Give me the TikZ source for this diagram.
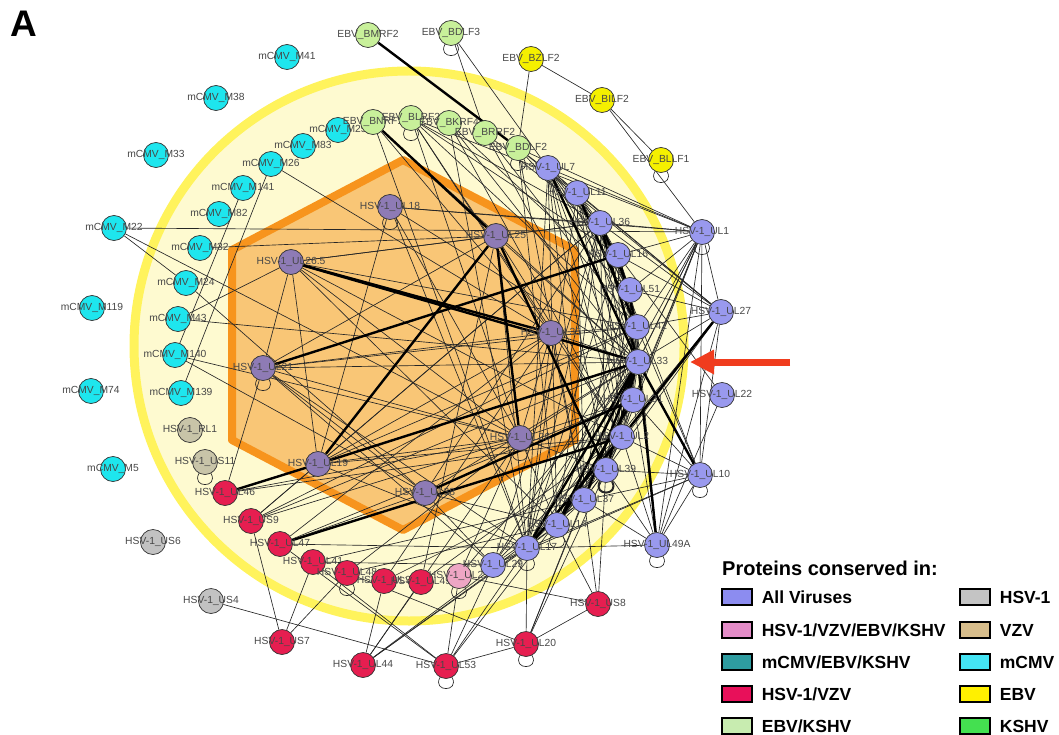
\documentclass[tikz,border=0pt]{standalone}
\usepackage{fontspec}
\setmainfont{Liberation Sans}
\usetikzlibrary{positioning,arrows.meta}

\definecolor{allcol}{HTML}{9999EE}
\definecolor{hexcol}{HTML}{8E7BB5}
\definecolor{redcol}{HTML}{E61E50}
\definecolor{pinkcol}{HTML}{EEA6C4}
\definecolor{cyancol}{HTML}{1EE6EE}
\definecolor{greencol}{HTML}{C8F09A}
\definecolor{ebvcol}{HTML}{F5F000}
\definecolor{greycol}{HTML}{C2C2C2}
\definecolor{tangrey}{HTML}{C8C4A8}
\definecolor{ringcol}{HTML}{FFF35C}
\definecolor{ringfill}{HTML}{FEFAD0}
\definecolor{orangeedge}{HTML}{F7941D}
\definecolor{orangefill}{HTML}{F9C676}
\definecolor{arrowred}{HTML}{F03C1E}
% legend colours
\definecolor{legall}{HTML}{8C8CF0}
\definecolor{legfour}{HTML}{E48CC8}
\definecolor{legteal}{HTML}{2E9CA0}
\definecolor{legred}{HTML}{E8105A}
\definecolor{leggreen}{HTML}{C8ECB0}
\definecolor{leggrey}{HTML}{C4C4C4}
\definecolor{legvzv}{HTML}{D8BE8C}
\definecolor{legcyan}{HTML}{44E4F4}
\definecolor{legyellow}{HTML}{FFF000}
\definecolor{legkshv}{HTML}{44E050}

\pgfdeclarelayer{back}
\pgfdeclarelayer{links}
\pgfsetlayers{back,links,main}

\begin{document}
\begin{tikzpicture}[x=1pt,y=-1pt,
    prot/.style={circle,draw=black!80,line width=0.7pt,minimum size=25pt,inner sep=0pt},
    allv/.style={prot,fill=allcol},
    core/.style={prot,fill=hexcol},
    alpha/.style={prot,fill=redcol},
    four/.style={prot,fill=pinkcol},
    mcmv/.style={prot,fill=cyancol},
    gamma/.style={prot,fill=greencol},
    ebv/.style={prot,fill=ebvcol},
    hsvonly/.style={prot,fill=greycol},
    hsvtan/.style={prot,fill=tangrey},
    every label/.style={font=\fontsize{10.3}{11}\selectfont,text=black!72},
    link/.style={draw=black!85,line width=0.65pt},
    heavy/.style={draw=black,line width=2.4pt},
    legbox/.style={draw=black,line width=1.3pt,minimum width=30pt,minimum height=16pt,inner sep=0pt},
    legtext/.style={font=\bfseries\fontsize{17.5}{18}\selectfont,anchor=west,inner sep=0pt}]

\useasboundingbox (0,0) rectangle (1059,735);

% backdrop: ring and hexagon
\begin{pgfonlayer}{back}
  \draw[draw=ringcol,fill=ringfill,line width=9pt] (409,346) circle[radius=275];
  \draw[draw=orangeedge,fill=orangefill,line width=8pt,line join=round]
    (403,160) -- (575,250) -- (575,440) -- (403,530) -- (232,440) -- (232,250) -- cycle;
\end{pgfonlayer}

\node[font=\bfseries\fontsize{37}{37}\selectfont] (panel) at (24,24) {A};

% mCMV
\node[mcmv,label=center:mCMV\_M41] (m41) at (287,57) {};
\node[mcmv,label=center:mCMV\_M38] (m38) at (216,98) {};
\node[mcmv,label=center:mCMV\_M33] (m33) at (156,155) {};
\node[mcmv,label=center:mCMV\_M25] (m25) at (338,130) {};
\node[mcmv,label=center:mCMV\_M83] (m83) at (303,146) {};
\node[mcmv,label=center:mCMV\_M26] (m26) at (271,164) {};
\node[mcmv,label=center:mCMV\_M141] (m141) at (243,188) {};
\node[mcmv,label=center:mCMV\_M82] (m82) at (219,214) {};
\node[mcmv,label=center:mCMV\_M22] (m22) at (114,228) {};
\node[mcmv,label=center:mCMV\_M32] (m32) at (200,248) {};
\node[mcmv,label=center:mCMV\_M24] (m24) at (186,283) {};
\node[mcmv,label=center:mCMV\_M119] (m119) at (92,308) {};
\node[mcmv,label=center:mCMV\_M43] (m43) at (178,319) {};
\node[mcmv,label=center:mCMV\_M140] (m140) at (175,355) {};
\node[mcmv,label=center:mCMV\_M74] (m74) at (91,391) {};
\node[mcmv,label=center:mCMV\_M139] (m139) at (181,393) {};
\node[mcmv,label=center:mCMV\_M5] (m5) at (113,469) {};

% HSV-1 only
\node[hsvtan,label=center:HSV-1\_RL1] (rl1) at (190,430) {};
\node[hsvtan,label=center:HSV-1\_US11] (us11) at (205,462) {};
\node[hsvonly,label=center:HSV-1\_US6] (us6) at (153,542) {};
\node[hsvonly,label=center:HSV-1\_US4] (us4) at (211,601) {};

% HSV-1/VZV
\node[alpha,label=center:HSV-1\_UL46] (ul46) at (225,493) {};
\node[alpha,label=center:HSV-1\_US9] (us9) at (251,521) {};
\node[alpha,label=center:HSV-1\_UL47] (ul47) at (280,544) {};
\node[alpha,label=center:HSV-1\_UL41] (ul41) at (313,562) {};
\node[alpha,label=center:HSV-1\_UL48] (ul48) at (347,573) {};
\node[alpha,label=center:HSV-1\_UL3] (ul3) at (384,581) {};
\node[alpha,label=center:HSV-1\_UL49] (ul49) at (421,582) {};
\node[four,label=center:HSV-1\_UL23] (ul23) at (459,576) {};
\node[alpha,label=center:HSV-1\_US7] (us7) at (282,642) {};
\node[alpha,label=center:HSV-1\_UL44] (ul44) at (363,665) {};
\node[alpha,label=center:HSV-1\_UL53] (ul53) at (446,666) {};
\node[alpha,label=center:HSV-1\_UL20] (ul20) at (526,644) {};
\node[alpha,label=center:HSV-1\_US8] (us8) at (598,604) {};

% EBV/KSHV and EBV
\node[gamma,label=center:EBV\_BMRF2] (bmrf2) at (368,35) {};
\node[gamma,label=center:EBV\_BDLF3] (bdlf3) at (451,33) {};
\node[gamma,label=center:EBV\_BNRF1] (bnrf1) at (373,122) {};
\node[gamma,label=center:EBV\_BLRF2] (blrf2) at (411,118) {};
\node[gamma,label=center:EBV\_BKRF4] (bkrf4) at (449,123) {};
\node[gamma,label=center:EBV\_BRRF2] (brrf2) at (485,133) {};
\node[gamma,label=center:EBV\_BDLF2] (bdlf2) at (518,148) {};
\node[ebv,label=center:EBV\_BZLF2] (bzlf2) at (531,59) {};
\node[ebv,label=center:EBV\_BILF2] (bilf2) at (602,100) {};
\node[ebv,label=center:EBV\_BLLF1] (bllf1) at (661,160) {};

% conserved in all, hexagon group
\node[core,label=center:HSV-1\_UL18] (ul18) at (390,207) {};
\node[core,label=center:HSV-1\_UL25] (ul25) at (496,236) {};
\node[core,label=center:HSV-1\_UL26.5] (ul265) at (291,262) {};
\node[core,label=center:HSV-1\_UL35] (ul35) at (551,333) {};
\node[core,label=center:HSV-1\_UL21] (ul21) at (263,368) {};
\node[core,label=center:HSV-1\_UL26] (ul26) at (520,438) {};
\node[core,label=center:HSV-1\_UL19] (ul19) at (318,464) {};
\node[core,label=center:HSV-1\_UL38] (ul38) at (425,493) {};

% conserved in all, arc
\node[allv,label=center:HSV-1\_UL7] (ul7) at (548,168) {};
\node[allv,label=center:HSV-1\_UL11] (ul11) at (577,193) {};
\node[allv,label=center:HSV-1\_UL36] (ul36) at (600,223) {};
\node[allv,label=center:HSV-1\_UL16] (ul16) at (618,255) {};
\node[allv,label=center:HSV-1\_UL51] (ul51) at (630,290) {};
\node[allv,label=center:HSV-1\_UL42] (ul42) at (637,327) {};
\node[allv,label=center:HSV-1\_UL33] (ul33) at (638,362) {};
\node[allv,label=center:HSV-1\_UL31] (ul31) at (633,400) {};
\node[allv,label=center:HSV-1\_UL2] (ul2) at (622,437) {};
\node[allv,label=center:HSV-1\_UL39] (ul39) at (606,470) {};
\node[allv,label=center:HSV-1\_UL37] (ul37) at (584,500) {};
\node[allv,label=center:HSV-1\_UL14] (ul14) at (557,525) {};
\node[allv,label=center:HSV-1\_UL17] (ul17) at (527,548) {};
\node[allv,label=center:HSV-1\_UL29] (ul29) at (493,565) {};
\node[allv,label=center:HSV-1\_UL1] (ul1) at (702,232) {};
\node[allv,label=center:HSV-1\_UL27] (ul27) at (721,312) {};
\node[allv,label=center:HSV-1\_UL22] (ul22) at (722,395) {};
\node[allv,label=center:HSV-1\_UL10] (ul10) at (700,475) {};
\node[allv,label=center:HSV-1\_UL49A] (ul49a) at (657,545) {};

\begin{pgfonlayer}{links}
  % thin interactions
  \foreach \a/\b in {ul7/ul11,ul7/ul36,ul7/ul16,ul7/ul51,ul7/ul42,ul7/ul31,ul7/ul2,ul7/ul39,ul7/ul37,ul7/ul14,ul7/ul17,
      ul11/ul36,ul11/ul16,ul11/ul51,ul11/ul33,ul11/ul31,ul11/ul2,ul11/ul37,ul11/ul17,
      ul36/ul16,ul36/ul42,ul36/ul31,ul36/ul2,ul36/ul39,ul36/ul14,ul36/ul17,ul36/ul29,
      ul16/ul51,ul16/ul33,ul16/ul2,ul16/ul37,ul16/ul17,
      ul51/ul42,ul51/ul33,ul51/ul31,ul51/ul39,ul51/ul14,
      ul42/ul33,ul42/ul31,ul42/ul2,ul42/ul37,ul42/ul17,ul42/ul29,
      ul33/ul31,ul33/ul2,ul33/ul29,ul31/ul2,ul31/ul37,ul31/ul17,
      ul2/ul39,ul2/ul14,ul2/ul29,ul39/ul37,ul39/ul17,ul37/ul14,ul37/ul29,ul14/ul17,ul17/ul29}
    \draw[link] (\a) -- (\b);
  \foreach \a/\b in {ul1/ul7,ul1/ul36,ul1/ul16,ul1/ul51,ul1/ul42,ul1/ul33,ul1/ul31,ul1/ul2,ul1/ul39,ul1/ul27,
      ul1/ul10,ul1/ul49a,ul1/ul17,ul1/ul14,
      ul27/ul36,ul27/ul16,ul27/ul51,ul27/ul42,ul27/ul33,ul27/ul37,ul27/ul17,ul27/ul10,ul27/ul49a,
      ul27/ul14,ul27/ul11,ul27/ul7,ul22/ul16,ul22/ul49a,
      ul10/ul36,ul10/ul42,ul10/ul31,ul10/ul2,ul10/ul39,ul10/ul37,ul10/ul17,ul10/ul49a,ul10/ul29,
      ul49a/ul42,ul49a/ul31,ul49a/ul2,ul49a/ul39,ul49a/ul37,ul49a/ul17,ul49a/ul51}
    \draw[link] (\a) -- (\b);
  \foreach \a/\b in {bzlf2/bilf2,bilf2/bllf1,bilf2/ul1,bzlf2/bdlf2,bdlf2/ul1,bdlf2/ul27,
      bdlf3/brrf2,bdlf3/ul7,bnrf1/ul35,bnrf1/ul33,bnrf1/ul17,
      blrf2/ul35,blrf2/ul16,blrf2/ul36,blrf2/ul42,blrf2/ul1,blrf2/ul2,blrf2/ul26,
      bkrf4/ul33,bkrf4/ul51,bkrf4/ul2,bkrf4/ul17,brrf2/ul36,brrf2/ul42,brrf2/ul31,
      bdlf2/ul11,bdlf2/ul16,bdlf2/ul37,bdlf2/ul14,
      m22/ul1,m22/m24,m22/ul26,m26/ul35,m26/m139,m141/m140,m43/ul265,m43/ul33,m140/ul26,m140/ul38,m24/ul38,m32/ul25}
    \draw[link] (\a) -- (\b);
  \foreach \a/\b in {ul46/ul21,ul46/ul26,ul46/ul33,ul46/ul2,
      us9/us7,us9/ul19,us9/ul26,us9/ul36,us9/ul33,us9/ul42,
      ul47/ul35,ul47/ul38,ul47/ul17,ul47/ul31,ul41/ul29,ul41/ul37,ul41/ul53,ul41/us7,
      ul48/us7,ul48/ul20,ul48/ul26,ul48/ul14,ul3/ul35,ul3/ul39,ul3/ul44,
      ul49/ul44,ul49/ul2,ul49/ul25,ul23/ul53,ul23/ul33,ul23/ul26,
      ul44/ul17,ul44/ul14,ul44/ul37,ul44/ul26,
      us4/ul53,ul53/ul20,ul53/ul17,ul53/ul29,ul53/ul2,ul53/ul47,
      ul20/us8,ul20/ul17,ul20/ul33,ul20/ul2,ul20/ul37,
      us8/ul23,us8/ul14,us8/ul37,us8/ul39}
    \draw[link] (\a) -- (\b);
  \foreach \a/\b in {ul18/ul33,ul18/ul17,ul18/ul36,ul18/ul26,ul18/ul19,ul18/ul1,
      ul25/ul265,ul25/ul36,ul25/ul33,ul25/ul2,ul25/ul17,ul25/ul21,
      ul265/ul21,ul265/ul36,ul265/ul26,ul265/ul19,ul265/ul42,ul265/ul2,ul265/ul14,
      ul35/ul33,ul35/ul42,ul35/ul26,ul35/ul37,ul35/ul19,ul35/ul21,ul35/ul17,
      ul21/ul26,ul21/ul33,ul21/ul42,ul21/ul38,ul21/ul17,ul21/ul29,
      ul26/ul19,ul26/ul33,ul26/ul31,ul26/ul39,ul26/ul14,
      ul19/ul42,ul19/ul36,ul19/ul2,ul19/ul17,ul38/ul36,ul38/ul33,ul38/ul29,ul38/ul14}
    \draw[link] (\a) -- (\b);
  % strong interactions
  \foreach \a/\b in {bmrf2/bdlf2,bnrf1/ul25,ul265/ul35,ul265/ul33,ul21/ul16,ul25/ul19,ul25/ul26,ul25/ul39,
      ul19/ul33,ul19/ul46,ul38/ul31,ul47/ul2,ul33/ul10,ul33/ul49a,ul7/ul33,ul36/ul33,ul11/ul42,
      ul17/ul33,ul14/ul33,ul37/ul33,ul17/ul2,ul39/ul33,ul14/ul31,ul27/ul2,ul36/ul51,ul16/ul42}
    \draw[heavy] (\a) -- (\b);
  % self interactions
  \foreach \n in {bdlf3,blrf2,bdlf2,bllf1,ul18,ul21,ul26,ul1,ul10,ul14,ul17,ul49a,ul53,ul20,us11,ul23,ul48}
    \draw[link] (\n.-118) .. controls +(-118:17pt) and +(-62:17pt) .. (\n.-62);
  \draw[link,line width=2pt] (ul39.-118) .. controls +(-118:17pt) and +(-62:17pt) .. (ul39.-62);
\end{pgfonlayer}

% pointer
\coordinate (tail) at (790,362);
\coordinate (tip) at (690,362);
\draw[arrowred,line width=7pt,-{Triangle[length=24pt,width=23pt]}] (tail) -- (tip);

% legend
\node[font=\bfseries\fontsize{20}{20}\selectfont,anchor=west,inner sep=0pt] (legtitle) at (722,568) {Proteins conserved in:};
\foreach \y/\c/\t [count=\i] in {597/legall/{All Viruses},630/legfour/{HSV-1/VZV/EBV/KSHV},662/legteal/{mCMV/EBV/KSHV},
    694/legred/{HSV-1/VZV},726/leggreen/{EBV/KSHV}}{
  \node[legbox,fill=\c] (lbox\i) at (737,\y) {};
  \node[legtext,right=9pt of lbox\i] (ltext\i) {\t};
}
\foreach \y/\c/\t [count=\i] in {597/leggrey/HSV-1,630/legvzv/VZV,662/legcyan/mCMV,694/legyellow/EBV,726/legkshv/KSHV}{
  \node[legbox,fill=\c] (rbox\i) at (975,\y) {};
  \node[legtext,right=9pt of rbox\i] (rtext\i) {\t};
}
\end{tikzpicture}
\end{document}
